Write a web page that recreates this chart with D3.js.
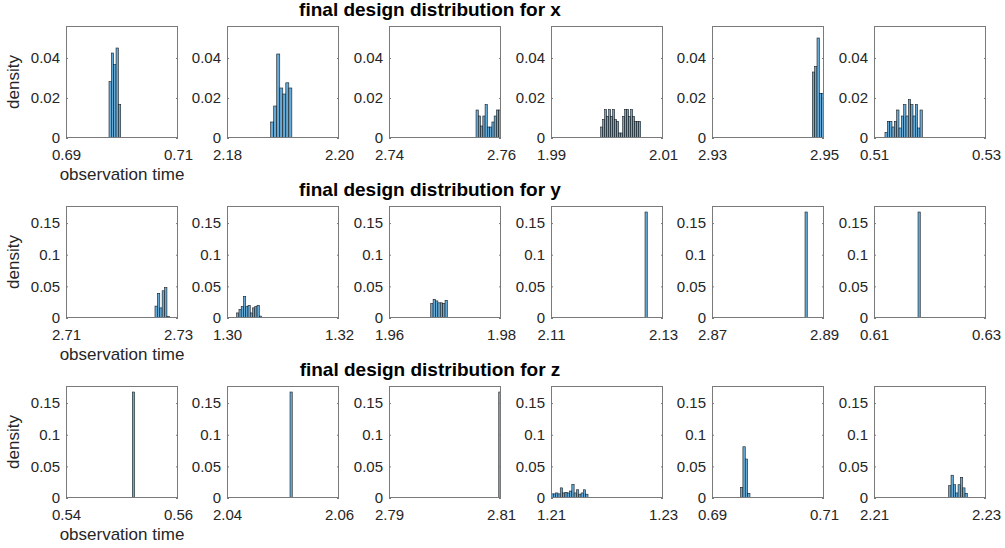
<!DOCTYPE html>
<html>
<head>
<meta charset="utf-8">
<script src="https://cdn.jsdelivr.net/npm/d3@7"></script>
<style>
  body { margin: 0; background: #fff; }
  svg text { font-family: "Liberation Sans", Arial, Helvetica, sans-serif; fill: #262626; }
</style>
</head>
<body>
<svg id="chart"></svg>
<script>
(function(){
    "use strict";

    var width = 1005,
        height = 548;

    // one row per design variable, six observation times each
    var variables = ["x", "y", "z"];

    var axisStart = [
        [0.69, 2.18, 2.74, 1.99, 2.93, 0.51],
        [2.71, 1.30, 1.96, 2.11, 2.87, 0.61],
        [0.54, 2.04, 2.79, 1.21, 0.69, 2.21]
    ];
    var axisSpan = 0.02;

    var yTicks = [
        [0, 0.02, 0.04],
        [0, 0.05, 0.1, 0.15],
        [0, 0.05, 0.1, 0.15]
    ];
    var yMax = [0.056, 0.177, 0.177];

    // histogram bins: first edge, bin width, density of each bin
    var binStart = [
        [0.69768, 2.18780, 2.75554, 1.99887, 2.94792, 0.51196],
        [2.72589, 1.30173, 1.96745, 2.12679, 2.88661, 0.61786],
        [0.55184, 2.05125, 2.80960, 1.21000, 0.69510, 2.22334]
    ];
    var binWidth = [
        [0.000418, 0.000540, 0.000405, 0.000357, 0.000416, 0.000417],
        [0.000427, 0.000404, 0.000426, 0.000400, 0.000400, 0.000400],
        [0.000400, 0.000400, 0.000400, 0.000413, 0.000420, 0.000417]
    ];
    var density = [
        [
            [0.0282, 0.0425, 0.0367, 0.045, 0.0167],
            [0.008, 0.016, 0.042, 0.025, 0.022, 0.0276, 0.025],
            [0.014, 0.011, 0.006, 0.011, 0.0167, 0.0055, 0.0055, 0.008, 0.011, 0.014, 0.014],
            [0.0055, 0.0092, 0.0142, 0.0108, 0.0142, 0.0108, 0.0142, 0.0092, 0.0083, 0.0025,
             0.0025, 0.0108, 0.0142, 0.0142, 0.0108, 0.0142, 0.0108, 0.0083, 0.0083, 0.0083],
            [0.033, 0.0358, 0.050, 0.0223, 0.0223],
            [0.0028, 0.0083, 0.0083, 0.0055, 0.0083, 0.014, 0.005, 0.011, 0.0167, 0.011,
             0.0192, 0.0167, 0.011, 0.0167, 0.005, 0.014]
        ],
        [
            [0.0188, 0.039, 0.016, 0.043, 0.048, 0.0027],
            [0.008, 0.0134, 0.018, 0.034, 0.018, 0.02, 0.008, 0.016, 0.018, 0.02, 0.003],
            [0.023, 0.0296, 0.027, 0.024, 0.024, 0.023, 0.028],
            [0.1675],
            [0.1675],
            [0.1675]
        ],
        [
            [0.1675],
            [0.1675],
            [0.1675],
            [0.0065, 0.0065, 0.008, 0.0065, 0.016, 0.008, 0.009, 0.008, 0.011, 0.0215,
             0.008, 0.013, 0.006, 0.008, 0.013, 0.006],
            [0.0168, 0.081, 0.0616, 0.0074],
            [0.0195, 0.036, 0.021, 0.008, 0.021, 0.0326, 0.016, 0.0074]
        ]
    ];

    var colLeft = [66, 227, 389, 551, 712, 874],
        rowTop = [26, 206, 386],
        pw = 112,
        ph = 112;

    var svg = d3.select("svg#chart")
        .attr("width", width)
        .attr("height", height);

    variables.forEach(function(v, r) {

        svg.append("text")
            .attr("x", 430)
            .attr("y", rowTop[r] - 10)
            .attr("text-anchor", "middle")
            .style("font-size", "19px")
            .style("font-weight", "bold")
            .style("fill", "#000")
            .text("final design distribution for " + v);

        axisStart[r].forEach(function(a, c) {
            var g = svg.append("g")
                .attr("transform", "translate(" + colLeft[c] + "," + rowTop[r] + ")");

            var x = d3.scaleLinear().domain([a, a + axisSpan]).range([0, pw]);
            var y = d3.scaleLinear().domain([0, yMax[r]]).range([ph, 0]);

            g.append("rect")
                .attr("width", pw)
                .attr("height", ph)
                .attr("fill", "#fff");

            // bars
            var clipId = "clip" + r + "_" + c;
            g.append("clipPath").attr("id", clipId)
                .append("rect").attr("width", pw).attr("height", ph);

            var bins = density[r][c].map(function(d, i) {
                return {x0: binStart[r][c] + i * binWidth[r][c],
                        x1: binStart[r][c] + (i + 1) * binWidth[r][c],
                        d: d};
            });

            g.append("g")
                .attr("clip-path", "url(#" + clipId + ")")
                .selectAll("rect")
                .data(bins)
                .enter().append("rect")
                .attr("x", function(b) { return x(b.x0); })
                .attr("width", function(b) { return x(b.x1) - x(b.x0); })
                .attr("y", function(b) { return y(b.d); })
                .attr("height", function(b) { return y(0) - y(b.d); })
                .attr("fill", "#66aad7")
                .attr("stroke", "#1a1a1a")
                .attr("stroke-width", 0.6);

            // axes
            var yl = g.append("g")
                .call(d3.axisLeft(y).tickValues(yTicks[r])
                    .tickFormat(d3.format("~g"))
                    .tickSizeInner(-2).tickSizeOuter(0).tickPadding(6));
            var yr = g.append("g")
                .attr("transform", "translate(" + pw + ",0)")
                .call(d3.axisRight(y).tickValues(yTicks[r])
                    .tickFormat("").tickSizeInner(-2).tickSizeOuter(0));
            var xb = g.append("g")
                .attr("transform", "translate(0," + ph + ")")
                .call(d3.axisBottom(x).tickValues([a, a + axisSpan])
                    .tickFormat(d3.format(".2f"))
                    .tickSizeInner(0).tickSizeOuter(0).tickPadding(11));

            [yl, yr, xb].forEach(function(ax) {
                ax.select(".domain").remove();
                ax.selectAll("line").attr("stroke", "#7a7a7a");
                ax.selectAll("text")
                    .style("font-size", "15px")
                    .style("font-family", "'Liberation Sans', Arial, sans-serif")
                    .attr("fill", "#262626");
            });

            g.append("rect")
                .attr("x", 0.5)
                .attr("y", 0.5)
                .attr("width", pw - 1)
                .attr("height", ph - 1)
                .attr("fill", "none")
                .attr("stroke", "#7a7a7a")
                .attr("stroke-width", 1);
        });

        svg.append("text")
            .attr("transform", "translate(19," + (rowTop[r] + ph / 2) + ") rotate(-90)")
            .attr("text-anchor", "middle")
            .style("font-size", "17px")
            .text("density");

        svg.append("text")
            .attr("x", colLeft[0] + pw / 2)
            .attr("y", rowTop[r] + ph + 42)
            .attr("text-anchor", "middle")
            .style("font-size", "17px")
            .text("observation time");
    });
})();
</script>
</body>
</html>
